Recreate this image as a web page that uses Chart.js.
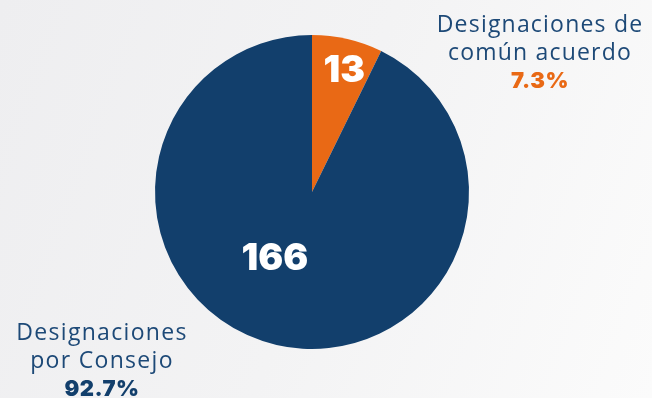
<!DOCTYPE html>
<html lang="es">
<head>
<meta charset="UTF-8">
<title>Designaciones</title>
<script src="https://cdn.jsdelivr.net/npm/chart.js"></script>
<style>
  html, body { margin: 0; padding: 0; }
  body {
    width: 652px; height: 398px; overflow: hidden;
    background: linear-gradient(110deg, #eeeef0 0%, #f3f3f4 50%, #fbfbfb 100%);
  }
  #wrap { position: relative; width: 652px; height: 398px; }
</style>
</head>
<body>
<div id="wrap"><canvas id="pie"></canvas></div>
<script>
// datos
const categorias = ['Designaciones de común acuerdo', 'Designaciones por Consejo'];
const valores = [13, 166];
const porcentajes = ['7.3%', '92.7%'];
const colores = ['#e96915', '#123f6c'];

// etiquetas externas (líneas de texto)
const etiquetas = [
  ['Designaciones de', 'común acuerdo'],
  ['Designaciones', 'por Consejo']
];

const NAVY_TXT = '#1d4977';
const FONT_TXT = '"Open Sans", sans-serif';
const FONT_NUM = 'Inter, sans-serif';

// dibuja los números dentro y las etiquetas fuera del pastel
const textosPlugin = {
  id: 'textos',
  afterDatasetsDraw(chart) {
    const ctx = chart.ctx;
    const arcs = chart.getDatasetMeta(0).data;
    const cx = arcs[0].x, cy = arcs[0].y, r = arcs[0].outerRadius;

    // valores dentro de cada porción
    const pos = [[0.205, -0.78], [-0.236, 0.42]];
    ctx.save();
    ctx.fillStyle = '#ffffff';
    ctx.font = '900 37px ' + FONT_NUM;
    ctx.textAlign = 'center';
    ctx.textBaseline = 'middle';
    valores.forEach((v, i) => {
      ctx.fillText(String(v), cx + r * pos[i][0], cy + r * pos[i][1] + 1);
    });

    // etiquetas externas
    const ext = [
      { x: 540, y: 32, pct: colores[0], ls: '1.2px' },
      { x: 102, y: 340, pct: colores[1], ls: '1.3px' }
    ];
    ctx.textBaseline = 'alphabetic';
    etiquetas.forEach((lineas, i) => {
      const e = ext[i];
      ctx.fillStyle = NAVY_TXT;
      ctx.font = '400 23px ' + FONT_TXT;
      ctx.letterSpacing = e.ls;
      lineas.forEach((t, j) => ctx.fillText(t, e.x, e.y + j * 28));
      ctx.fillStyle = e.pct;
      ctx.font = '900 22px ' + FONT_NUM;
      ctx.letterSpacing = '0.5px';
      ctx.fillText(porcentajes[i], e.x, e.y + 56);
    });
    ctx.restore();
  }
};

new Chart(document.getElementById('pie'), {
  type: 'pie',
  data: {
    labels: categorias,
    datasets: [{
      data: valores,
      backgroundColor: colores,
      borderWidth: 0
    }]
  },
  options: {
    responsive: true,
    maintainAspectRatio: false,
    animation: false,
    layout: { padding: { top: 35, bottom: 49, left: 0, right: 28 } },
    plugins: {
      legend: { display: false },
      tooltip: { enabled: false }
    }
  },
  plugins: [textosPlugin]
});
</script>
</body>
</html>
